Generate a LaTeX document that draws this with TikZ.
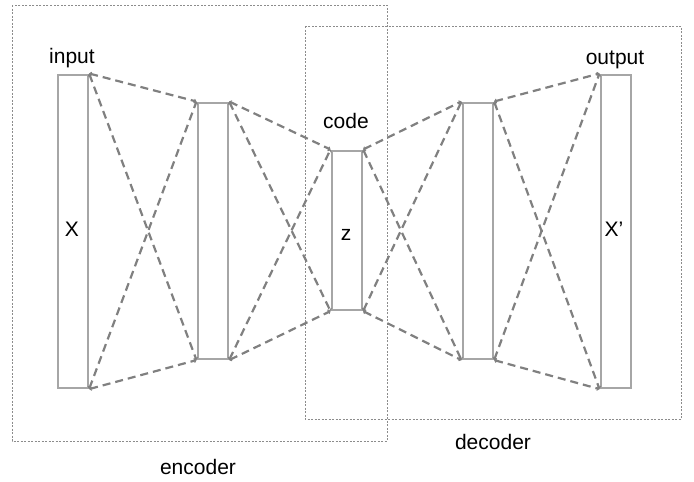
\documentclass[tikz,border=0pt]{standalone}
\usepackage{fontspec}
\setmainfont{Liberation Sans}
\usetikzlibrary{arrows.meta}
\begin{document}
\begin{tikzpicture}[x=1pt,y=-1pt,
  bar/.style={draw=black!35,line width=2.6pt,fill=white,inner sep=0pt,minimum width=30pt,anchor=north west},
  conn/.style={draw=black!50,line width=2.2pt,dash pattern=on 8pt off 5pt,{Straight Barb[length=1.8pt,width=4pt,line width=0.9pt]}-{Straight Barb[length=1.8pt,width=4pt,line width=0.9pt]}},
  region/.style={draw=black!45,line width=0.6pt,dash pattern=on 2pt off 1.5pt},
  lbl/.style={font=\fontsize{21}{24}\selectfont,inner sep=0pt}]
\useasboundingbox (0,0) rectangle (694,482);
% regions
\draw[region] (12,5) rectangle (387,441);
\draw[region] (305,26) rectangle (681,419);
% bars
\node[bar,minimum height=313pt] (in) at (56.5,73.5) {};
\node[bar,minimum height=256pt] (h1) at (196.5,101.5) {};
\node[bar,minimum height=159pt] (code) at (330.5,149.5) {};
\node[bar,minimum height=256pt] (h2) at (461.5,101.5) {};
\node[bar,minimum height=313pt] (out) at (599.5,73.5) {};
% connectors
\foreach \a/\b in {in/h1,h1/code,code/h2,h2/out}{
  \draw[conn] (\a.north east) -- (\b.north west);
  \draw[conn] (\a.north east) -- (\b.south west);
  \draw[conn] (\a.south east) -- (\b.north west);
  \draw[conn] (\a.south east) -- (\b.south west);
}
% labels
\node[lbl,anchor=base] (tin) at (72,63) {input};
\node[lbl,anchor=base] (tcode) at (346,128) {code};
\node[lbl,anchor=base] (tout) at (615,64) {output};
\node[lbl,anchor=base] (tx) at (72,236) {X};
\node[lbl,anchor=base] (tz) at (346,240) {z};
\node[lbl,anchor=base] (txp) at (614,236) {X’};
\node[lbl,anchor=base] (tenc) at (198,474) {encoder};
\node[lbl,anchor=base] (tdec) at (493,449) {decoder};
\end{tikzpicture}
\end{document}
